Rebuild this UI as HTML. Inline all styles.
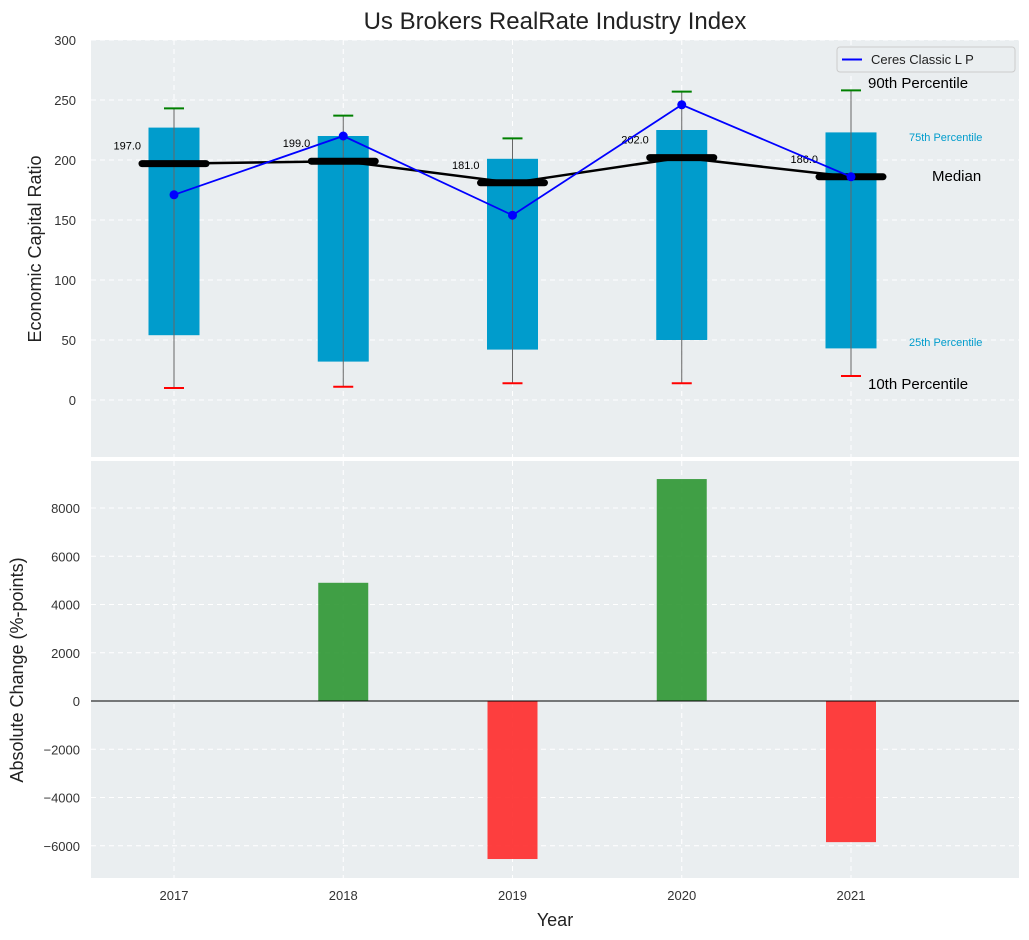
<!DOCTYPE html>
<html><head><meta charset="utf-8"><style>
body{margin:0;background:#fff;}
svg{display:block;font-family:"Liberation Sans","DejaVu Sans",sans-serif;}
</style></head><body>
<svg id="c" width="1029" height="940"></svg>
<script>
const years=["2017","2018","2019","2020","2021"];
const p10=[10,11,14,14,20];
const p25=[54,32,42,50,43];
const medians=[197,199,181,202,186];
const p75=[227,220,201,225,223];
const p90=[243,237,218,257,258];
const company=[171,220,154,246,186];
const changes=[0,4900,-6550,9200,-5850];
const topTicks=[0,50,100,150,200,250,300];
const botTicks=[-6000,-4000,-2000,0,2000,4000,6000,8000];

const NS="http://www.w3.org/2000/svg";
const svg=document.getElementById('c');
function el(t,a,p){const e=document.createElementNS(NS,t);for(const k in a)e.setAttribute(k,a[k]);(p||svg).appendChild(e);return e;}
const L=91,R=1019;
const x=i=>174+i*169.25;
const yT=v=>400-v*1.2;
const yB=v=>701-v*0.024125;
const T0=40,T1=457,B0=461,B1=878;

let bg=el('rect',{x:L,y:T0,width:R-L,height:T1-T0,fill:'#eaeef0'});

let bg2=el('rect',{x:L,y:B0,width:R-L,height:B1-B0,fill:'#eaeef0'});


years.forEach((yr,i)=>{
  el('line',{x1:x(i),x2:x(i),y1:T0,y2:T1,stroke:'#fff','stroke-dasharray':'5,4','stroke-width':1});
  el('line',{x1:x(i),x2:x(i),y1:B0,y2:B1,stroke:'#fff','stroke-dasharray':'5,4','stroke-width':1});
  const t=el('text',{x:x(i),y:900,'text-anchor':'middle','font-size':13,fill:'#333'});t.textContent=yr;
  
});
topTicks.forEach(v=>{
  el('line',{x1:L,x2:R,y1:yT(v),y2:yT(v),stroke:'#fff','stroke-dasharray':'5,4'});
  const t=el('text',{x:76,y:yT(v)+5,'text-anchor':'end','font-size':13,fill:'#333'});t.textContent=v;
  
});
botTicks.forEach(v=>{
  el('line',{x1:L,x2:R,y1:yB(v),y2:yB(v),stroke:'#fff','stroke-dasharray':'5,4'});
  const t=el('text',{x:80,y:yB(v)+5,'text-anchor':'end','font-size':13,fill:'#333'});t.textContent=String(v).replace('-','\u2212');
  
});

years.forEach((yr,i)=>{
  const b=el('rect',{x:x(i)-25.5,y:yT(p75[i]),width:51,height:yT(p25[i])-yT(p75[i]),fill:'#009ccc'});
  
  const w=el('line',{x1:x(i),x2:x(i),y1:yT(p10[i]),y2:yT(p90[i]),stroke:'#666','stroke-width':1});
  
  const h=el('line',{x1:x(i)-10,x2:x(i)+10,y1:yT(p90[i]),y2:yT(p90[i]),stroke:'green','stroke-width':2});
  
  const l=el('line',{x1:x(i)-10,x2:x(i)+10,y1:yT(p10[i]),y2:yT(p10[i]),stroke:'red','stroke-width':2});
  
});
let mp=el('polyline',{points:medians.map((v,i)=>x(i)+','+yT(v)).join(' '),fill:'none',stroke:'#000','stroke-width':2.5});

medians.forEach((v,i)=>{
  const m=el('line',{x1:x(i)-32,x2:x(i)+32,y1:yT(v),y2:yT(v),stroke:'#000','stroke-width':7,'stroke-linecap':'round'});
  
  const t=el('text',{x:x(i)-33,y:yT(v)-14,'text-anchor':'end','font-size':11,fill:'#000'});t.textContent=v.toFixed(1);
  
});
let cp=el('polyline',{points:company.map((v,i)=>x(i)+','+yT(v)).join(' '),fill:'none',stroke:'#0000ff','stroke-width':1.8});

company.forEach((v,i)=>{
  const c=el('circle',{cx:x(i),cy:yT(v),r:4.5,fill:'#0000ff'});
  
});
const ann=[[868,88,'90th Percentile',15,'#000'],[909,141,'75th Percentile',11,'#009ccc'],[932,181,'Median',15,'#000'],[909,346,'25th Percentile',11,'#009ccc'],[868,389,'10th Percentile',15,'#000']];
ann.forEach(a=>{const t=el('text',{x:a[0],y:a[1],'font-size':a[3],fill:a[4]});t.textContent=a[2];
  });
let lg=el('g',{});
el('rect',{x:837,y:47,width:178,height:25,rx:3,fill:'#eaeef0',stroke:'#ccc'},lg);
el('line',{x1:842,x2:862,y1:59.5,y2:59.5,stroke:'#0000ff','stroke-width':2},lg);
let lt=el('text',{x:871,y:64,'font-size':13,fill:'#222'},lg);lt.textContent='Ceres Classic L P';

changes.forEach((v,i)=>{
  const y0=yB(Math.max(v,0)),h=Math.abs(yB(v)-yB(0));
  const b=el('rect',{x:x(i)-25,y:y0,width:50,height:h,fill:v>=0?'#2e9632':'#ff2a2a','fill-opacity':0.9});
  
});
let zl=el('line',{x1:L,x2:R,y1:yB(0),y2:yB(0),stroke:'#000','stroke-width':1});


const tt=el('text',{x:555,y:29,'text-anchor':'middle','font-size':24,fill:'#222'});tt.textContent='Us Brokers RealRate Industry Index';

const yl=el('text',{x:0,y:0,'text-anchor':'middle','font-size':18,fill:'#222',transform:'translate(41,249) rotate(-90)'});yl.textContent='Economic Capital Ratio';

const yl2=el('text',{x:0,y:0,'text-anchor':'middle','font-size':18,fill:'#222',transform:'translate(23,670) rotate(-90)'});yl2.textContent='Absolute Change (%-points)';

const xl=el('text',{x:555,y:926,'text-anchor':'middle','font-size':18,fill:'#222'});xl.textContent='Year';

</script>
</body></html>
